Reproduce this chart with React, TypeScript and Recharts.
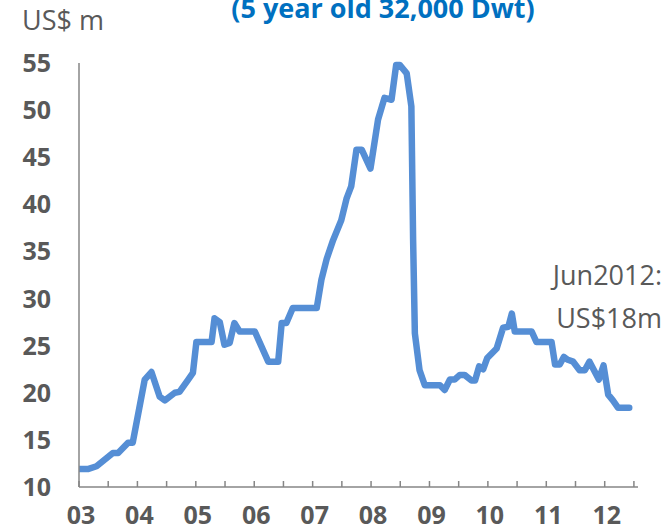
import { LineChart, Line, XAxis, YAxis } from 'recharts';

// decimal year of each reading
const years = [
  2003.0, 2003.15, 2003.3, 2003.58, 2003.67, 2003.84, 2003.92, 2004.125, 2004.24, 2004.38,
  2004.47, 2004.64, 2004.72, 2004.87, 2004.95, 2005.01, 2005.27, 2005.32, 2005.41, 2005.49,
  2005.58, 2005.66, 2005.75, 2006.01, 2006.24, 2006.41, 2006.47, 2006.55, 2006.66, 2007.07,
  2007.15, 2007.24, 2007.35, 2007.49, 2007.58, 2007.66, 2007.75, 2007.84, 2007.99, 2008.12,
  2008.23, 2008.35, 2008.43, 2008.49, 2008.61, 2008.69, 2008.72, 2008.75, 2008.83, 2008.92,
  2009.18, 2009.26, 2009.35, 2009.43, 2009.52, 2009.6, 2009.72, 2009.78, 2009.85, 2009.92,
  2009.99, 2010.15, 2010.26, 2010.35, 2010.41, 2010.46, 2010.75, 2010.83, 2011.09, 2011.15,
  2011.23, 2011.3, 2011.37, 2011.46, 2011.57, 2011.66, 2011.74, 2011.9, 2011.98, 2012.06,
  2012.14, 2012.23, 2012.42,
];

// second-hand price, US$ m
const prices = [
  11.9, 11.9, 12.2, 13.6, 13.6, 14.7, 14.7, 21.4, 22.2, 19.6,
  19.2, 20.0, 20.1, 21.4, 22.1, 25.4, 25.4, 27.9, 27.5, 25.1,
  25.3, 27.4, 26.5, 26.5, 23.3, 23.3, 27.4, 27.4, 29.0, 29.0,
  32.0, 34.2, 36.2, 38.3, 40.6, 41.9, 45.8, 45.8, 43.8, 49.0,
  51.3, 51.1, 54.8, 54.8, 53.9, 50.4, 36.2, 26.3, 22.4, 20.8,
  20.8, 20.3, 21.4, 21.4, 21.9, 21.9, 21.3, 21.3, 22.8, 22.5,
  23.7, 24.7, 26.9, 27.0, 28.4, 26.5, 26.5, 25.4, 25.4, 23.0,
  23.0, 23.8, 23.5, 23.3, 22.4, 22.4, 23.3, 21.4, 22.9, 19.8,
  19.2, 18.4, 18.4,
];

const yTicks = [10, 15, 20, 25, 30, 35, 40, 45, 50, 55];
const xTicks = [
  2003, 2003.5, 2004, 2004.5, 2005, 2005.5, 2006, 2006.5, 2007, 2007.5,
  2008, 2008.5, 2009, 2009.5, 2010, 2010.5, 2011, 2011.5, 2012, 2012.5,
];
const yearLabels = ['03', '04', '05', '06', '07', '08', '09', '10', '11', '12'];

const chartData = years.map((year, i) => ({ year, price: prices[i] }));

const GREY = '#595959';
const AXIS = '#868686';
const FONT = '"Open Sans", sans-serif';

function XTick({ x, y, payload }: any) {
  const v = payload.value;
  const label = Number.isInteger(v) ? yearLabels[v - 2003] : null;
  return (
    <g>
      <line x1={x} x2={x} y1={y} y2={y - 6} stroke={AXIS} strokeWidth={1.5} />
      {label && (
        <text x={x + 2} y={y + 37} textAnchor="middle" fill={GREY} fontSize={25} fontWeight={700} fontFamily={FONT}>
          {label}
        </text>
      )}
    </g>
  );
}

function YTick({ x, y, payload }: any) {
  return (
    <text x={x} y={y + 9} textAnchor="end" fill={GREY} fontSize={25} fontWeight={700} fontFamily={FONT}>
      {payload.value}
    </text>
  );
}

export default function App() {
  return (
    <div style={{ position: 'absolute', left: 0, top: 0, width: 667, height: 529, background: '#fff' }}>
      <LineChart width={667} height={529} data={chartData} margin={{ top: 63, right: 29, left: 0, bottom: 0 }}>
        <XAxis
          dataKey="year"
          type="number"
          domain={[2003, 2012.57]}
          ticks={xTicks}
          interval={0}
          height={42}
          tickSize={0}
          tickMargin={0}
          tick={<XTick />}
          axisLine={{ stroke: AXIS, strokeWidth: 1.5 }}
          allowDataOverflow
        />
        <YAxis
          type="number"
          domain={[10, 55]}
          ticks={yTicks}
          interval={0}
          width={79}
          tickSize={0}
          tickMargin={28}
          tickLine={false}
          tick={<YTick />}
          axisLine={{ stroke: AXIS, strokeWidth: 1.5 }}
        />
        <Line
          dataKey="price"
          type="linear"
          stroke="#558ED5"
          strokeWidth={6.5}
          strokeLinejoin="round"
          strokeLinecap="round"
          dot={false}
          activeDot={false}
          isAnimationActive={false}
        />
      </LineChart>
      <svg width={667} height={529} style={{ position: 'absolute', left: 0, top: 0, pointerEvents: 'none' }}>
        <text x={383} y={18} textAnchor="middle" fill="#0070C0" fontSize={27} fontWeight={700} fontFamily={FONT}>
          (5 year old 32,000 Dwt)
        </text>
        <text x={22} y={30} fill={GREY} fontSize={27} fontFamily={FONT}>
          US$ m
        </text>
        <text x={662} y={285} textAnchor="end" fill={GREY} fontSize={27} fontFamily={FONT}>
          Jun2012:
        </text>
        <text x={662} y={328} textAnchor="end" fill={GREY} fontSize={27} fontFamily={FONT}>
          US$18m
        </text>
      </svg>
    </div>
  );
}
